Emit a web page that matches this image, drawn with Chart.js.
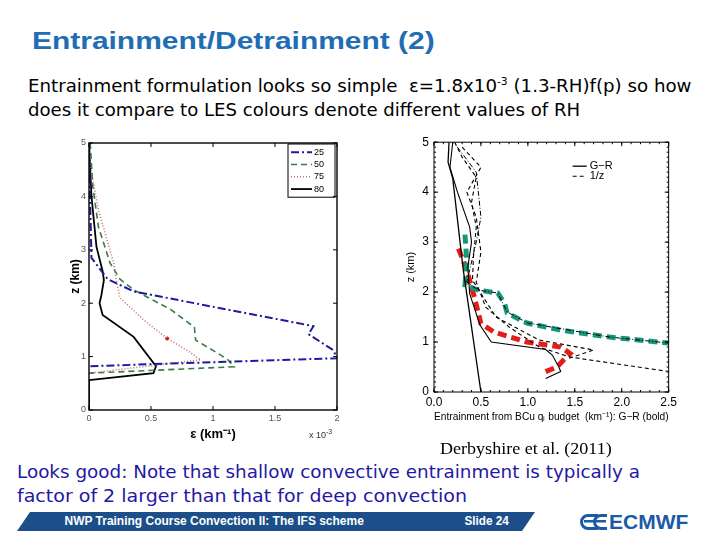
<!DOCTYPE html>
<html>
<head>
<meta charset="utf-8">
<script src="https://cdn.jsdelivr.net/npm/chart.js@4.4.0/dist/chart.umd.min.js"></script>
<style>
  body { margin: 0; width: 720px; height: 540px; background: #fff; position: relative; overflow: hidden; font-family: "Liberation Sans", Arial, sans-serif; }
  .t { position: absolute; white-space: nowrap; transform-origin: 0 50%; }
  #title { left: 32px; top: 27px; font-size: 24px; font-weight: bold; color: #1f6db3; }
  .body1 { left: 28px; font-family: "DejaVu Sans", sans-serif; font-size: 17px; color: #000; }
  .body2 { left: 17px; font-family: "DejaVu Sans", sans-serif; font-size: 18px; color: #2318a6; }
  #ref { left: 440px; top: 439px; font-family: "Liberation Serif", serif; font-size: 17px; color: #000; }
  #xexp { left: 309px; top: 428px; font-size: 9px; color: #333; }
  canvas { position: absolute; }
  #foot { position: absolute; left: 0; top: 505px; }
  .ft { position: absolute; top: 514px; font-family: "Liberation Sans Narrow", "Liberation Sans", sans-serif; font-weight: bold; font-size: 12.5px; color: #fff; }
</style>
</head>
<body>
<div id="title" class="t">Entrainment/Detrainment (2)</div>
<div class="t body1" id="b1" style="top:76px">Entrainment formulation looks so simple&nbsp; ε=1.8x10<sup style="font-size:10px">-3</sup> (1.3-RH)f(p) so how</div>
<div class="t body1" id="b2" style="top:100px">does it compare to LES colours denote different values of RH</div>

<canvas id="les" width="282" height="310" style="left:68px;top:132px"></canvas>
<div id="xexp" class="t">x 10<sup style="font-size:7px">-3</sup></div>
<canvas id="bcu" width="282" height="293" style="left:398px;top:130px"></canvas>

<div id="ref" class="t">Derbyshire et al. (2011)</div>
<div class="t body2" id="c1" style="top:461px">Looks good: Note that shallow convective entrainment is typically a</div>
<div class="t body2" id="c2" style="top:485px">factor of 2 larger than that for deep convection</div>

<svg id="foot" width="720" height="35">
  <polygon points="17,26 30,7 535,7 522,26" fill="#1c4f8a"/>
  <g fill="#1b5aa6">
    <path d="M598,9 h-10 a8,8 0 0 0 0,16 h10 v-3 h-10 a5,5 0 0 1 0,-10 h10 z"/>
    <path d="M607,9 h-6 a8,8 0 0 0 0,16 h6 v-3 h-6 a5,5 0 0 1 0,-10 h6 z"/>
    <rect x="584" y="15" width="22" height="2.5"/>
  </g>
  <text x="609" y="24" font-family="Liberation Sans, Arial" font-weight="bold" font-size="21" fill="#1b5aa6">ECMWF</text>
</svg>
<div class="ft" id="f1" style="left:58px">NWP Training Course Convection II: The IFS scheme</div>
<div class="ft" id="f2" style="left:463px">Slide 24</div>

<script>
// ---- left panel: LES entrainment, eps in units of 1e-3 km^-1 ----
const rhLabels = ['25', '50', '75', '80'];
const rh25Eps = [0.0, 0.01, 0.02, 0.15, 0.36, 1.81, 1.77, 1.97, 2.0, 0.0];
const rh25Z   = [5.0, 3.8, 2.85, 2.45, 2.22, 1.57, 1.42, 1.12, 0.97, 0.82];
const rh50Eps = [0.01, 0.03, 0.076, 0.17, 0.25, 0.36, 0.66, 0.85, 0.86, 1.04, 1.12, 1.17, 0.0];
const rh50Z   = [5.0, 4.2, 3.43, 2.75, 2.45, 2.25, 1.88, 1.55, 1.31, 1.06, 0.94, 0.81, 0.69];
const rh75Eps = [0.0, 0.02, 0.076, 0.2, 0.22, 0.25, 0.44, 0.63, 0.79, 0.9, 0.0];
const rh75Z   = [5.0, 4.43, 3.75, 2.75, 2.43, 2.1, 1.69, 1.34, 1.12, 0.94, 0.69];
const rh80Eps = [0.0, 0.01, 0.02, 0.06, 0.11, 0.12, 0.1, 0.085, 0.11, 0.36, 0.54, 0.52, 0.0, 0.0];
const rh80Z   = [5.0, 4.5, 4.0, 3.06, 2.6, 2.43, 2.15, 2.0, 1.78, 1.37, 0.82, 0.69, 0.56, 0.0];
const markEps = [0.63];
const markZ   = [1.34];
const lesXTicks = [0, 0.5, 1, 1.5, 2];
const lesXLabels = ['0', '0.5', '1', '1.5', '2'];
const lesZTicks = [0, 1, 2, 3, 4, 5];

// ---- right panel: entrainment from BCu q_l budget (km^-1) ----
const grLabel = 'G\u2212R';
const invzLabel = '1/z';
const grThinAEps = [0.16, 0.15, 0.2, 0.31, 0.5];
const grThinAZ   = [5.0, 4.6, 4.27, 2.47, 0.0];
const grThinBEps = [0.2, 0.17, 0.25, 0.38, 0.4, 0.36, 0.38, 0.49, 0.61, 1.19, 1.26, 1.33, 1.35, 1.19];
const grThinBZ   = [5.0, 4.5, 4.0, 3.3, 3.0, 2.5, 1.97, 1.34, 1.0, 0.85, 0.74, 0.5, 0.41, 0.27];
const invzAEps = [0.22, 0.3, 0.45, 0.4, 0.45, 0.42, 0.41, 0.66, 1.12, 1.7, 1.43];
const invzAZ   = [5.0, 4.7, 4.3, 3.8, 3.3, 2.7, 2.24, 1.5, 1.04, 0.84, 0.67];
const invzBEps = [0.3, 0.5, 0.35, 0.45, 0.5, 0.45, 0.55, 0.8, 1.12, 1.45, 2.5];
const invzBZ   = [4.9, 4.5, 4.0, 3.5, 2.8, 2.2, 1.7, 1.3, 0.9, 0.7, 0.41];
const invzCEps = [0.25, 0.45, 0.5, 0.45, 0.35, 0.47, 0.68, 0.78, 1.0, 1.87, 2.5];
const invzCZ   = [4.9, 4.4, 3.5, 3.0, 2.2, 2.04, 1.98, 1.6, 1.38, 1.1, 0.98];
const greenEps = [0.33, 0.35, 0.33, 0.47, 0.68, 0.75, 0.78, 0.99, 1.35, 1.87, 2.5];
const greenZ   = [3.15, 2.6, 2.14, 2.04, 1.98, 1.78, 1.58, 1.38, 1.24, 1.1, 0.98];
const redEps   = [0.26, 0.34, 0.43, 0.5, 0.64, 0.99, 1.35, 1.45, 1.38, 1.31, 1.14];
const redZ     = [2.87, 2.5, 1.9, 1.37, 1.2, 1.0, 0.9, 0.77, 0.64, 0.5, 0.37];
const bcuXTicks = [0, 0.5, 1, 1.5, 2, 2.5];
const bcuZTicks = [0, 1, 2, 3, 4, 5];

const pts = (xs, zs) => xs.map((v, i) => ({ x: v, y: zs[i] }));

// frame + inward tick marks on all four sides
const framePlugin = {
  id: 'frame',
  afterDraw(chart, args, o) {
    const { ctx, chartArea: a, scales: { x, y } } = chart;
    ctx.save();
    ctx.strokeStyle = o.color;
    ctx.lineWidth = o.width;
    ctx.strokeRect(a.left, a.top, a.right - a.left, a.bottom - a.top);
    ctx.lineWidth = 1;
    ctx.beginPath();
    const tx = (v, len) => { const p = x.getPixelForValue(v); ctx.moveTo(p, a.bottom); ctx.lineTo(p, a.bottom - len); ctx.moveTo(p, a.top); ctx.lineTo(p, a.top + len); };
    const ty = (v, len) => { const p = y.getPixelForValue(v); ctx.moveTo(a.left, p); ctx.lineTo(a.left + len, p); ctx.moveTo(a.right, p); ctx.lineTo(a.right - len, p); };
    x.ticks.forEach(t => tx(t.value, o.len));
    y.ticks.forEach(t => ty(t.value, o.len));
    if (o.minor) {
      for (let v = x.min; v <= x.max + 1e-9; v += o.minor) tx(v, o.len / 2);
      for (let v = y.min; v <= y.max + 1e-9; v += o.minor) ty(v, o.len / 2);
    }
    ctx.stroke();
    ctx.restore();
  }
};

// line-style legend inside the plot
const lineLegend = {
  id: 'lineLegend',
  afterDatasetsDraw(chart, args, o) {
    const { ctx, chartArea: a } = chart;
    const items = chart.data.datasets.filter(d => d.legendText);
    const x0 = a.right - o.right - o.w, y0 = a.top + o.top;
    ctx.save();
    if (o.box) {
      ctx.fillStyle = '#fff';
      ctx.fillRect(x0, y0, o.w, o.rows * items.length + 4);
      ctx.strokeStyle = '#000';
      ctx.lineWidth = 1;
      ctx.strokeRect(x0, y0, o.w, o.rows * items.length + 4);
    }
    ctx.font = o.font;
    ctx.textBaseline = 'middle';
    items.forEach((d, i) => {
      const yy = y0 + 2 + o.rows * (i + 0.5);
      ctx.strokeStyle = d.borderColor;
      ctx.lineWidth = Math.min(d.borderWidth, 2);
      ctx.setLineDash(d.borderDash || []);
      ctx.beginPath();
      ctx.moveTo(x0 + o.l1, yy);
      ctx.lineTo(x0 + o.l2, yy);
      ctx.stroke();
      ctx.setLineDash([]);
      ctx.fillStyle = '#000';
      ctx.fillText(d.legendText, x0 + o.tx, yy);
    });
    ctx.restore();
  }
};

const line = (xs, zs, color, width, dash, legendText) => ({
  data: pts(xs, zs), showLine: true, pointRadius: 0, borderColor: color,
  borderWidth: width, borderDash: dash, legendText: legendText, fill: false, tension: 0
});

new Chart(document.getElementById('les'), {
  type: 'scatter',
  data: {
    datasets: [
      line(rh25Eps, rh25Z, '#1c1c9c', 2, [8, 3, 2, 3], rhLabels[0]),
      line(rh50Eps, rh50Z, '#3d7a44', 1.6, [6, 4], rhLabels[1]),
      line(rh75Eps, rh75Z, '#c4707a', 1.6, [1, 2], rhLabels[2]),
      line(rh80Eps, rh80Z, '#000000', 1.8, [], rhLabels[3]),
      { data: pts(markEps, markZ), pointRadius: 2, pointBackgroundColor: '#d01818', pointBorderWidth: 0 }
    ]
  },
  options: {
    responsive: false, animation: false, devicePixelRatio: 1,
    layout: { padding: { top: 11, right: 13, left: 0, bottom: 0 } },
    plugins: {
      legend: { display: false }, tooltip: { enabled: false },
      frame: { color: '#000', width: 1.4, len: 4 },
      lineLegend: { box: true, right: 2, top: 1, w: 47, rows: 12.3, l1: 3, l2: 24, tx: 26, font: '9px "Liberation Sans"' }
    },
    scales: {
      x: {
        type: 'linear', min: 0, max: 2,
        afterBuildTicks: s => { s.ticks = lesXTicks.map(v => ({ value: v })); },
        afterFit: s => { s.height = 32; },
        grid: { drawOnChartArea: false, drawTicks: false }, border: { display: false },
        ticks: { padding: 3, color: '#555', font: { size: 9 }, callback: v => lesXLabels[lesXTicks.indexOf(v)] },
        title: { display: true, text: '\u03b5 (km\u207b\u00b9)', color: '#000', font: { size: 13, weight: 'bold' }, padding: 0 }
      },
      y: {
        type: 'linear', min: 0, max: 5,
        afterBuildTicks: s => { s.ticks = lesZTicks.map(v => ({ value: v })); },
        afterFit: s => { s.width = 21; },
        grid: { drawOnChartArea: false, drawTicks: false }, border: { display: false },
        ticks: { padding: 3, color: '#555', font: { size: 9 } },
        title: { display: true, text: 'z (km)', color: '#000', font: { size: 12, weight: 'bold' }, padding: 0 }
      }
    }
  },
  plugins: [framePlugin, lineLegend]
});

new Chart(document.getElementById('bcu'), {
  type: 'scatter',
  data: {
    datasets: [
      line(grThinAEps, grThinAZ, '#000', 1.3, [], grLabel),
      line(invzAEps, invzAZ, '#000', 1.1, [4, 3], invzLabel),
      line(grThinBEps, grThinBZ, '#000', 1.1, []),
      line(invzBEps, invzBZ, '#000', 1.1, [4, 3]),
      line(invzCEps, invzCZ, '#000', 1, [5, 2, 1, 2]),
      line(greenEps, greenZ, '#17977a', 5, [9, 5]),
      line(redEps, redZ, '#e41d18', 5, [9, 5])
    ]
  },
  options: {
    responsive: false, animation: false, devicePixelRatio: 1,
    layout: { padding: { top: 12, right: 9, left: 0, bottom: 0 } },
    plugins: {
      legend: { display: false }, tooltip: { enabled: false },
      frame: { color: '#000', width: 1, len: 4, minor: 0.1 },
      lineLegend: { box: false, right: 56, top: 17, w: 40, rows: 10, l1: 0, l2: 14, tx: 17, font: '11px "Liberation Sans"' }
    },
    scales: {
      x: {
        type: 'linear', min: 0, max: 2.5,
        afterBuildTicks: s => { s.ticks = bcuXTicks.map(v => ({ value: v })); },
        afterFit: s => { s.height = 31; },
        grid: { drawOnChartArea: false, drawTicks: false }, border: { display: false },
        ticks: { padding: 3, color: '#000', font: { size: 12 }, callback: v => v.toFixed(1) },
        title: { display: true, text: 'Entrainment from BCu q\u2097 budget  (km\u207b\u00b9): G\u2212R (bold)', color: '#000', font: { size: 10.5 }, padding: 0 }
      },
      y: {
        type: 'linear', min: 0, max: 5,
        afterBuildTicks: s => { s.ticks = bcuZTicks.map(v => ({ value: v })); },
        afterFit: s => { s.width = 36; },
        grid: { drawOnChartArea: false, drawTicks: false }, border: { display: false },
        ticks: { padding: 5, color: '#000', font: { size: 12 } },
        title: { display: true, text: 'z (km)', color: '#000', font: { size: 11 }, padding: { top: 6 } }
      }
    }
  },
  plugins: [framePlugin, lineLegend]
});

// stretch/squeeze text lines to the widths they occupy on the slide
const fitW = { title: 403, b1: 663, b2: 552, c1: 623, c2: 450, ref: 172, f1: 299, f2: 44 };
Object.keys(fitW).forEach(id => {
  const el = document.getElementById(id);
  el.style.transform = 'scaleX(' + (fitW[id] / el.offsetWidth) + ')';
});
</script>
</body>
</html>
